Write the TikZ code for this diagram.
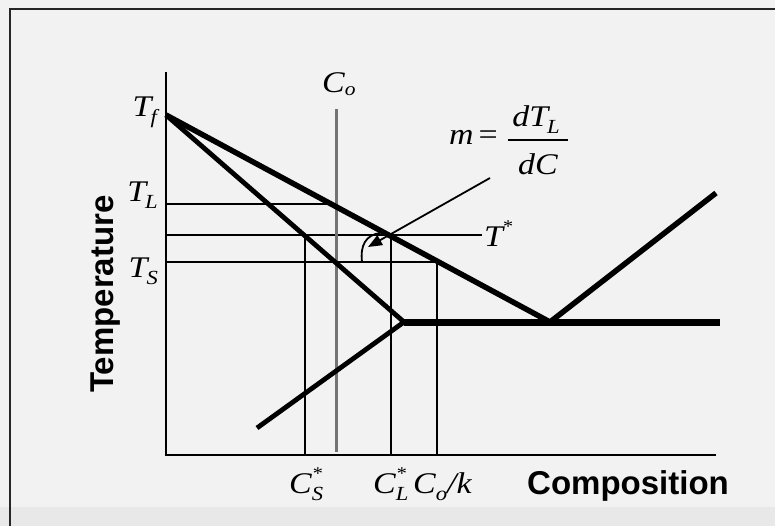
\documentclass[tikz,border=0pt]{standalone}
\usepackage{fontspec}
\setmainfont{Liberation Serif}[FakeStretch=1.13]
\newfontfamily\arialfam{Liberation Sans}
\usetikzlibrary{arrows.meta}
\newcommand{\lsb}[1]{\raisebox{-7pt}{\fontsize{20}{22}\selectfont #1}}
\newcommand{\lsp}[1]{\raisebox{14pt}{\fontsize{18}{20}\selectfont #1}}
\begin{document}
\begin{tikzpicture}[x=1pt,y=-1pt,
  thin/.style={line width=1.7pt,black},
  curve/.style={line width=5pt,black,line join=miter},
  lbl/.style={inner sep=0pt,font=\itshape\fontsize{30}{34}\selectfont},
  axlbl/.style={inner sep=0pt,font=\arialfam\bfseries\fontsize{33}{38}\selectfont},
]
% background and frame
\fill[fill={rgb,255:red,242;green,242;blue,242}] (0,0) rectangle (775,526);
\fill[fill={rgb,255:red,232;green,232;blue,232}] (0,507) rectangle (775,526);
\useasboundingbox (0,0) rectangle (775,526);
\draw[line width=2.2pt,black!85] (10,526) -- (10,9) -- (775,9);

% named coordinates
\coordinate (O) at (166,455);
\coordinate (Ytop) at (166,72);
\coordinate (Xend) at (716,455);
\coordinate (Tf) at (166,115);
\coordinate (E) at (550,322);
\coordinate (P) at (404,322);
\coordinate (Q) at (257,428);
\coordinate (R) at (716,193);
\coordinate (Eend) at (720,322);
\coordinate (CoTop) at (336,109);
\coordinate (CoBot) at (336,452);
\coordinate (TLa) at (166,204);
\coordinate (TLb) at (333,204);
\coordinate (TSTa) at (166,235);
\coordinate (TSTb) at (482,235);
\coordinate (TSa) at (166,262);
\coordinate (TSb) at (437,262);
\coordinate (CSa) at (305,235);
\coordinate (CSb) at (305,455);
\coordinate (CLa) at (391,235);
\coordinate (CLb) at (391,455);
\coordinate (Cka) at (437,262);
\coordinate (Ckb) at (437,455);
\coordinate (ArStart) at (490,178);
\coordinate (ArTip) at (368,247);
\coordinate (ArcA) at (362,262);
\coordinate (ArcB) at (380,233);
\coordinate (BarL) at (508,140);
\coordinate (BarR) at (568,140);

% axes
\draw[thin] (Ytop) -- (O) -- (Xend);
% construction lines
\draw[thin] (TLa) -- (TLb);
\draw[thin] (TSTa) -- (TSTb);
\draw[thin] (TSa) -- (TSb);
\draw[thin] (CSa) -- (CSb);
\draw[thin] (CLa) -- (CLb);
\draw[thin] (Cka) -- (Ckb);
% Co line
\draw[line width=3pt,black!55] (CoTop) -- (CoBot);

% phase boundaries
\draw[curve,line width=5.5pt] (Tf) -- (E) -- (R);
\draw[curve,line width=4.8pt] (Tf) -- (P) -- (Q);
\draw[line width=7pt,black] (P) -- (Eend);

% slope arrow and angle arc
\draw[line width=1.8pt] (ArcA) .. controls (360,245) and (366,235) .. (ArcB);
\draw[line width=1.8pt,-{Triangle[length=14pt,width=11pt]}] (ArStart) -- (ArTip);

% labels
\node[lbl,anchor=base east] (lTf) at (157,117) {T\kern-1pt\lsb{f}};
\node[lbl,anchor=base east] (lTL) at (158,202) {T\kern-1pt\lsb{L}};
\node[lbl,anchor=base east] (lTS) at (158,277) {T\kern-1pt\lsb{S}};
\node[lbl,anchor=base west] (lCo) at (322,93) {C\raisebox{-3pt}{\fontsize{19}{20}\selectfont o}};
\node[lbl,anchor=base west] (lTs) at (484,247) {T\kern-1pt\lsp{*}};
\node[lbl,anchor=base west] (lCS) at (289,493) {C\rlap{\lsp{*}}\lsb{S}};
\node[lbl,anchor=base west] (lCL) at (373,493) {C\rlap{\lsp{*}}\lsb{L}};
\node[lbl,anchor=base west] (lCk) at (413,493) {C\lsb{o}/k};
% slope formula
\node[lbl,anchor=base west] (lm) at (449,145) {m\upshape\kern5pt=};
\node[lbl,anchor=base] (lnum) at (536,127) {dT\kern-1pt\lsb{L}};
\node[lbl,anchor=base] (lden) at (538,175) {dC};
\draw[line width=1.8pt] (BarL) -- (BarR);
% axis titles
\node[axlbl,anchor=base west] (lComp) at (527,494) {Composition};
\node[axlbl,anchor=base west,rotate=90] (lTemp) at (113,393) {Temperature};
\end{tikzpicture}
\end{document}
